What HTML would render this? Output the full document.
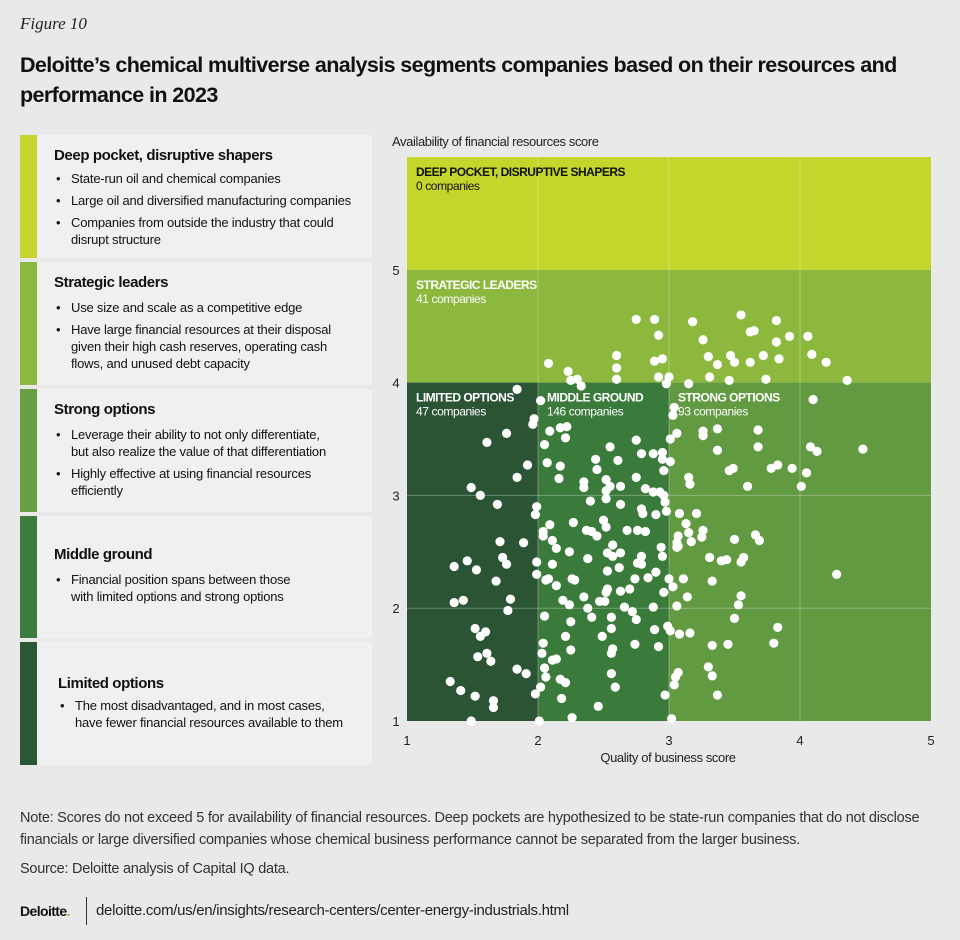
<!DOCTYPE html>
<html><head><meta charset="utf-8">
<style>
body{margin:0;width:960px;height:940px;background:#e8e9e8;font-family:"Liberation Sans",sans-serif;color:#111;position:relative;overflow:hidden}
.abs{position:absolute}
#fig{left:20px;top:14px;font-family:"Liberation Serif",serif;font-style:italic;font-size:17px;color:#222}
#title{left:20px;top:50px;width:935px;font-weight:bold;font-size:21.5px;line-height:30px;letter-spacing:-0.6px}
.card{position:absolute;left:20px;width:352px;background:#eff0ef}
.strip{position:absolute;left:0;top:0;bottom:0;width:17px}
.card h3{margin:0;position:absolute;left:34px;font-size:15px;font-weight:bold;letter-spacing:-0.4px}
.card ul{margin:0;padding:0;list-style:none;position:absolute;left:34px;font-size:13px;line-height:17px;letter-spacing:-0.2px;white-space:nowrap}
.card li{position:relative;padding-left:17px;margin-bottom:5px}
.card li:before{content:"•";position:absolute;left:2px}
#note{left:20px;top:807px;font-size:14.5px;line-height:22px;color:#333;white-space:nowrap;letter-spacing:-0.25px}
#src{left:20px;top:861px;font-size:14.5px;color:#333;letter-spacing:-0.25px}
#logo{left:20px;top:903px;font-weight:bold;font-size:14px;letter-spacing:-0.6px}
#sep{left:86px;top:897px;width:1px;height:28px;background:#333}
#url{left:96px;top:902px;font-size:15px;color:#222;letter-spacing:-0.3px}
</style></head><body>
<div id="fig" class="abs">Figure 10</div>
<div id="title" class="abs">Deloitte’s chemical multiverse analysis segments companies based on their resources and performance in 2023</div>

<div class="card" style="top:135px;height:123px"><div class="strip" style="background:#c4d52c"></div><h3 style="top:12px">Deep pocket, disruptive shapers</h3><ul style="top:35px"><li>State-run oil and chemical companies</li><li>Large oil and diversified manufacturing companies</li><li>Companies from outside the industry that could<br>disrupt structure</li></ul></div>
<div class="card" style="top:262px;height:123px"><div class="strip" style="background:#8cb83e"></div><h3 style="top:12px">Strategic leaders</h3><ul style="top:37px"><li>Use size and scale as a competitive edge</li><li>Have large financial resources at their disposal<br>given their high cash reserves, operating cash<br>flows, and unused debt capacity</li></ul></div>
<div class="card" style="top:389px;height:123px"><div class="strip" style="background:#66a043"></div><h3 style="top:12px">Strong options</h3><ul style="top:37px"><li>Leverage their ability to not only differentiate,<br>but also realize the value of that differentiation</li><li>Highly effective at using financial resources<br>efficiently</li></ul></div>
<div class="card" style="top:516px;height:122px"><div class="strip" style="background:#3d7c3c"></div><h3 style="top:30px">Middle ground</h3><ul style="top:55px"><li>Financial position spans between those<br>with limited options and strong options</li></ul></div>
<div class="card" style="top:642px;height:123px"><div class="strip" style="background:#2b5735"></div><h3 style="top:33px;left:38px">Limited options</h3><ul style="top:55px;left:38px"><li>The most disadvantaged, and in most cases,<br>have fewer financial resources available to them</li></ul></div>

<svg class="abs" style="left:0;top:0" width="960" height="940" id="chart"></svg>

<div id="note" class="abs">Note: Scores do not exceed 5 for availability of financial resources. Deep pockets are hypothesized to be state-run companies that do not disclose<br>financials or large diversified companies whose chemical business performance cannot be separated from the larger business.</div>
<div id="src" class="abs">Source: Deloitte analysis of Capital IQ data.</div>
<div id="logo" class="abs">Deloitte<span style="color:#86bc25">.</span></div>
<div id="sep" class="abs"></div>
<div id="url" class="abs">deloitte.com/us/en/insights/research-centers/center-energy-industrials.html</div>

<script>
const xTicks=[1,2,3,4,5];
const yTicks=[1,2,3,4,5];
const regionNames=["DEEP POCKET, DISRUPTIVE SHAPERS","STRATEGIC LEADERS","LIMITED OPTIONS","MIDDLE GROUND","STRONG OPTIONS"];
const regionCounts=[0,41,47,146,93];
const xs=[2.75,2.89,2.92,2.60,2.60,2.60,2.89,2.95,2.92,3.00,2.98,2.08,2.23,2.25,2.30,2.33,1.84,2.02,1.97,1.96,2.09,2.17,2.22,2.21,2.05,1.76,1.61,2.75,2.55,2.79,2.88,2.95,2.95,3.01,2.61,2.44,2.45,2.07,2.17,1.92,1.84,2.16,2.75,2.35,2.35,2.52,2.55,2.63,2.52,2.82,2.88,2.93,2.96,1.49,1.56,1.69,2.40,2.52,2.63,2.79,2.80,2.90,2.97,2.98,1.99,1.98,3.01,3.03,3.04,
2.09,2.27,2.04,2.04,2.11,2.14,2.24,2.38,2.37,2.41,2.45,2.50,2.52,2.68,2.76,2.82,2.57,2.53,2.57,2.63,2.62,2.53,2.79,2.76,2.79,2.94,2.95,3.06,3.06,1.71,1.89,1.36,1.46,1.53,1.73,1.76,1.68,1.99,2.11,1.99,2.06,2.08,2.14,2.26,2.28,2.35,2.19,2.24,2.38,2.41,2.47,2.51,2.53,2.52,2.63,2.70,2.74,2.84,2.90,3.00,3.03,2.96,2.66,2.72,2.75,2.88,3.06,1.36,1.43,1.79,1.77,2.05,2.25,2.21,2.49,2.56,2.56,2.74,2.89,2.92,2.99,3.01,3.08,1.52,1.60,1.56,1.54,1.61,1.64,2.04,2.03,2.25,2.11,2.14,2.57,2.56,1.84,1.91,1.33,1.41,1.52,1.66,1.66,1.98,2.05,2.06,2.02,2.17,2.21,2.18,2.56,2.59,2.46,2.97,3.05,3.04,1.49,2.01,2.26,3.02,
3.18,3.55,3.82,3.62,3.65,3.26,3.82,3.92,4.06,3.30,3.37,3.47,3.50,3.62,3.72,3.84,4.09,4.20,4.36,3.74,3.46,3.31,3.15,4.10,3.37,3.68,3.26,3.26,3.06,3.68,3.37,4.08,4.13,4.48,3.78,3.83,3.94,4.05,3.46,3.49,3.15,3.16,3.60,4.01,3.08,3.21,2.96,
3.13,3.07,3.15,3.17,3.26,3.25,3.07,3.50,3.66,3.69,3.31,3.40,3.44,3.55,3.57,3.11,3.33,3.14,3.55,3.53,3.50,4.28,3.16,3.33,3.45,3.80,3.83,3.30,3.33,3.07,3.37];
const ys=[4.56,4.56,4.42,4.24,4.13,4.03,4.19,4.21,4.05,4.05,3.99,4.17,4.10,4.02,4.03,3.97,3.94,3.84,3.68,3.63,3.57,3.60,3.61,3.51,3.45,3.55,3.47,3.49,3.43,3.37,3.37,3.38,3.32,3.30,3.31,3.32,3.23,3.29,3.26,3.27,3.16,3.15,3.16,3.12,3.07,3.14,3.08,3.08,3.04,3.06,3.03,3.03,3.00,3.07,3.00,2.92,2.95,2.97,2.92,2.88,2.84,2.83,2.94,2.86,2.90,2.83,3.50,3.71,3.78,
2.74,2.76,2.68,2.64,2.60,2.53,2.50,2.44,2.69,2.68,2.64,2.78,2.72,2.69,2.69,2.68,2.56,2.49,2.46,2.49,2.36,2.33,2.46,2.40,2.39,2.54,2.46,2.58,2.54,2.59,2.58,2.37,2.42,2.34,2.45,2.39,2.24,2.41,2.39,2.30,2.25,2.26,2.20,2.26,2.25,2.10,2.07,2.03,2.00,1.92,2.06,2.06,2.17,2.14,2.15,2.17,2.26,2.27,2.32,2.26,2.19,2.14,2.01,1.97,1.90,2.01,2.02,2.05,2.07,2.08,1.98,1.93,1.88,1.75,1.75,1.82,1.92,1.68,1.81,1.66,1.84,1.80,1.77,1.82,1.79,1.75,1.57,1.60,1.53,1.69,1.60,1.63,1.54,1.55,1.64,1.60,1.46,1.42,1.35,1.27,1.22,1.18,1.12,1.24,1.47,1.39,1.30,1.37,1.34,1.20,1.42,1.30,1.13,1.23,1.39,1.32,1.00,1.00,1.03,1.02,
4.54,4.60,4.55,4.45,4.46,4.38,4.36,4.41,4.41,4.23,4.16,4.24,4.18,4.18,4.24,4.21,4.25,4.18,4.02,4.03,4.02,4.05,3.99,3.85,3.59,3.58,3.57,3.53,3.55,3.43,3.40,3.43,3.39,3.41,3.24,3.27,3.24,3.20,3.22,3.24,3.16,3.10,3.08,3.08,2.84,2.84,3.22,
2.75,2.64,2.67,2.59,2.69,2.63,2.55,2.61,2.65,2.60,2.45,2.42,2.43,2.41,2.45,2.26,2.24,2.10,2.11,2.03,1.91,2.30,1.78,1.67,1.68,1.69,1.83,1.48,1.40,1.43,1.23];

const svg=document.getElementById('chart');
const NS='http://www.w3.org/2000/svg';
const X0=407,X1=931,Y0=721,Y6=157;
const FF='"Liberation Sans",sans-serif';
function sx(v){return X0+(v-1)*(X1-X0)/4;}
function sy(v){return Y0-(v-1)*(Y0-Y6)/5;}
function mk(tag,attrs){const e=document.createElementNS(NS,tag);for(const k in attrs)e.setAttribute(k,attrs[k]);svg.appendChild(e);return e;}
const regions=[[1,5,5,6,'#c4d52c'],[1,5,4,5,'#8cb83e'],[1,2,1,4,'#2b5435'],[2,3,1,4,'#3a7a3a'],[3,5,1,4,'#629a42']];
const rnames=['region-deep-pocket','region-strategic-leaders','region-limited-options','region-middle-ground','region-strong-options'];
regions.forEach((g,i)=>{const e=mk('rect',{x:sx(g[0]),y:sy(g[3]),width:sx(g[1])-sx(g[0]),height:sy(g[2])-sy(g[3]),fill:g[4]});

});
[2,3,4].forEach(v=>{const l=mk('line',{x1:sx(v),x2:sx(v),y1:Y6,y2:Y0,stroke:'rgba(255,255,255,0.3)','stroke-width':1});

});
[2,3].forEach(v=>{const l=mk('line',{x1:X0,x2:X1,y1:sy(v),y2:sy(v),stroke:'rgba(255,255,255,0.3)','stroke-width':1});

});
const lpos=[[1,6,'#111'],[1,5,'#fff'],[1,4,'#fff'],[2,4,'#fff'],[3,4,'#fff']];
lpos.forEach((p,i)=>{
 const t=mk('text',{x:sx(p[0])+9,y:sy(p[1])+19,fill:p[2],'font-size':12,'font-weight':'bold','letter-spacing':-0.5,'font-family':FF});
 t.textContent=regionNames[i];
 
 
 const c=mk('text',{x:sx(p[0])+9,y:sy(p[1])+33,fill:p[2],'font-size':12,'letter-spacing':-0.4,'font-family':FF});
 c.textContent=regionCounts[i]+' companies';
 
 
});
for(let i=0;i<xs.length;i++){
 const d=mk('circle',{cx:sx(xs[i]),cy:sy(ys[i]),r:4.6,fill:'#fff'});
 
 
}
xTicks.forEach(v=>{const t=mk('text',{x:sx(v),y:745,'text-anchor':'middle','font-size':13,fill:'#222','font-family':FF});t.textContent=v;

});
yTicks.forEach(v=>{const t=mk('text',{x:396,y:sy(v)+5,'text-anchor':'middle','font-size':13,fill:'#222','font-family':FF});t.textContent=v;

});
let at=mk('text',{x:668,y:762,'text-anchor':'middle','font-size':13,'letter-spacing':-0.4,fill:'#222','font-family':FF});at.textContent='Quality of business score';


let yt=mk('text',{x:392,y:146,'font-size':13,'letter-spacing':-0.4,fill:'#222','font-family':FF});yt.textContent='Availability of financial resources score';


</script>
</body></html>
